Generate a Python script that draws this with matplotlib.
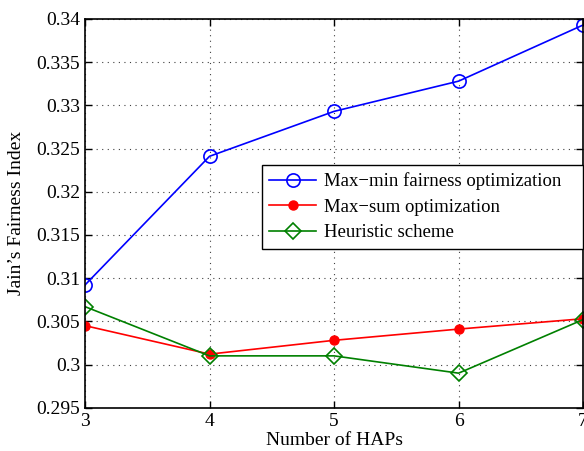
import matplotlib.pyplot as plt

plt.rcParams['font.family'] = ['Liberation Serif', 'DejaVu Serif']
plt.rcParams['mathtext.fontset'] = 'stix'

haps = [3, 4, 5, 6, 7]
maxmin = [0.3092, 0.3241, 0.3293, 0.3328, 0.3393]
maxsum = [0.3045, 0.3012, 0.3028, 0.3041, 0.3053]
heuristic = [0.3067, 0.3010, 0.3010, 0.2990, 0.3052]

yticks = [0.295, 0.3, 0.305, 0.31, 0.315, 0.32, 0.325, 0.33, 0.335, 0.34]
ytick_labels = ['0.295', '0.3', '0.305', '0.31', '0.315', '0.32', '0.325', '0.33', '0.335', '0.34']

fig = plt.figure(figsize=(5.84, 4.51), dpi=100)
ax = fig.add_axes([0.1455, 0.096, 0.853, 0.862])

ax.plot(haps, maxmin, color='#0000ff', lw=1.2, marker='o', ms=9.5, mfc='none', mew=1.2,
        label='Max\u2212min fairness optimization')
ax.plot(haps, maxsum, color='#ff0000', lw=1.2, marker='o', ms=6.5, mfc='#ff0000', mew=1.0,
        label='Max\u2212sum optimization')
ax.plot(haps, heuristic, color='#008000', lw=1.2, marker='D', ms=8, mfc='none', mew=1.2,
        label='Heuristic scheme')

ax.set_xlim(3, 7)
ax.set_ylim(0.295, 0.34)
ax.set_xticks(haps)
ax.set_yticks(yticks)
ax.set_yticklabels(ytick_labels)
ax.tick_params(direction='in', labelsize=14, top=True, right=True, length=5, width=1)
ax.grid(True, linestyle=(0, (1, 4)), color='#404040', linewidth=0.8)
for s in ax.spines.values():
    s.set_linewidth(1.2)

ax.set_xlabel('Number of HAPs', fontsize=14, labelpad=2)
ax.set_ylabel('Jain\u2019s Fairness Index', fontsize=14, labelpad=8)

leg = ax.legend(loc='upper left', bbox_to_anchor=(0.355, 0.4, 0.645, 0.225), mode='expand',
                fontsize=13.5, frameon=True, fancybox=False, edgecolor='black', framealpha=1,
                borderpad=0.4, labelspacing=0.45, handlelength=2.5, handletextpad=0.4,
                borderaxespad=0)
leg.get_frame().set_linewidth(1.0)

fig.savefig('out.png', dpi=100)
